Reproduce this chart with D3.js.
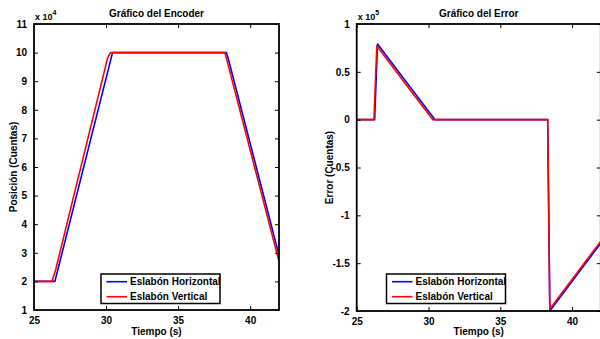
<!DOCTYPE html>
<html><head><meta charset="utf-8">
<script src="https://cdn.jsdelivr.net/npm/d3@7"></script>
<style>body{margin:0;background:#fff}svg{display:block}svg text{font-family:"Liberation Sans",Arial,sans-serif !important;font-weight:bold !important;fill:#000}</style>
</head><body>
<script>
// Encoder data (x 10^4)
const encTimeH = [25, 26.45, 30.45, 38.35, 38.5, 42];
const encValH  = [2, 2, 10, 10, 9.75, 2.92];
const encTimeV = [25, 26.25, 26.5, 30.1, 30.3, 38.25, 42];
const encValV  = [2, 2, 2.4, 9.8, 10, 10, 2.7];
// Error data (x 10^5)
const errTimeH = [25, 26.25, 26.45, 30.45, 38.3, 38.45, 42];
const errValH  = [0, 0, 0.79, 0, 0, -2, -1.29];
const errTimeV = [25, 26.2, 26.4, 30.3, 38.3, 38.45, 42];
const errValV  = [0, 0, 0.77, 0, 0, -1.98, -1.27];

const xTicks = [25, 30, 35, 40];
const encYTicks = [1,2,3,4,5,6,7,8,9,10,11];
const errYTicks = [1, 0.5, 0, -0.5, -1, -1.5, -2];
const errYLabels = ["1","0.5","0","-0.5","-1","-1.5","-2"];
const seriesNames = ["Eslabón Horizontal", "Eslabón Vertical"];
const seriesColors = ["#0000ff", "#ff0000"];

const svg = d3.select("body").append("svg").attr("width", 600).attr("height", 339);

function panel(cfg) {
  const x = d3.scaleLinear().domain([25, 42]).range([cfg.x0, cfg.x1]);
  const y = d3.scaleLinear().domain(cfg.ydom).range([cfg.y1, cfg.y0]);
  const g = svg.append("g");
  const clipId = "clip" + cfg.id;
  svg.append("clipPath").attr("id", clipId).append("rect")
    .attr("x", cfg.x0).attr("y", cfg.y0).attr("width", cfg.x1 - cfg.x0).attr("height", cfg.y1 - cfg.y0);
  const line = d3.line().x(d => x(d[0])).y(d => y(d[1]));
  cfg.series.forEach((s, i) => {
    g.append("path").attr("clip-path", `url(#${clipId})`)
      .datum(d3.zip(s[0], s[1]))
      .attr("fill", "none").attr("stroke", seriesColors[i]).attr("stroke-width", 1.6)
      .attr("stroke-linejoin", "round").attr("d", line);
  });
  const bottom = g.append("g").attr("transform", `translate(0,${cfg.y1})`)
    .call(d3.axisBottom(x).tickValues(xTicks).tickSize(-4).tickPadding(7));
  const top = g.append("g").attr("transform", `translate(0,${cfg.y0})`)
    .call(d3.axisTop(x).tickValues(xTicks).tickSize(-4).tickFormat(""));
  const left = g.append("g").attr("transform", `translate(${cfg.x0},0)`)
    .call(d3.axisLeft(y).tickValues(cfg.yticks).tickSize(-4).tickPadding(7).tickFormat(cfg.yfmt));
  const right = g.append("g").attr("transform", `translate(${cfg.x1},0)`)
    .call(d3.axisRight(y).tickValues(cfg.yticks).tickSize(-4).tickFormat(""));
  [bottom, top, left, right].forEach(a => {
    a.select(".domain").remove();
    a.selectAll("line").attr("stroke", "#000").attr("stroke-width", 1);
    a.selectAll("text").attr("font-size", 10);
  });
  g.append("rect").attr("x", cfg.x0).attr("y", cfg.y0).attr("width", cfg.x1 - cfg.x0).attr("height", cfg.y1 - cfg.y0)
    .attr("fill", "none").attr("stroke", "#000").attr("stroke-width", 1.8);
  g.append("text").attr("x", (cfg.x0 + cfg.x1) / 2).attr("y", 17).attr("text-anchor", "middle")
    .attr("font-size", 10).text(cfg.title);
  const ex = g.append("text").attr("x", cfg.x0 + 1).attr("y", 20).attr("font-size", 9);
  ex.append("tspan").text("x 10");
  ex.append("tspan").attr("dy", -5).attr("font-size", 7).text(cfg.exp);
  g.append("text").attr("x", (cfg.x0 + cfg.x1) / 2).attr("y", 335).attr("text-anchor", "middle")
    .attr("font-size", 10).text("Tiempo (s)");
  g.append("text").attr("transform", `translate(${cfg.ylabX},${(cfg.y0 + cfg.y1) / 2}) rotate(-90)`)
    .attr("text-anchor", "middle").attr("font-size", 10).text(cfg.ylabel);
  const lg = g.append("g");
  lg.append("rect").attr("x", cfg.lx).attr("y", 274).attr("width", 119).attr("height", 29.5)
    .attr("fill", "#fff").attr("stroke", "#000").attr("stroke-width", 1.5);
  seriesNames.forEach((n, i) => {
    const yy = 281.7 + i * 15;
    lg.append("line").attr("x1", cfg.lx + 5.5).attr("x2", cfg.lx + 26).attr("y1", yy).attr("y2", yy)
      .attr("stroke", seriesColors[i]).attr("stroke-width", 1.6);
    lg.append("text").attr("x", cfg.lx + 29).attr("y", yy + 3.5).attr("font-size", 10).text(n);
  });
}

panel({id: 1, x0: 34, x1: 279, y0: 24, y1: 310, ydom: [1, 11], yticks: encYTicks,
  yfmt: d3.format("d"), title: "Gráfico del Encoder", exp: "4", ylabel: "Posición (Cuentas)", ylabX: 17,
  lx: 101, series: [[encTimeH, encValH], [encTimeV, encValV]]});
panel({id: 2, x0: 356.7, x1: 600.8, y0: 24, y1: 311, ydom: [-2, 1], yticks: errYTicks,
  yfmt: (d, i) => errYLabels[i], title: "Gráfico del Error", exp: "5", ylabel: "Error (Cuentas)", ylabX: 333,
  lx: 386.5, series: [[errTimeH, errValH], [errTimeV, errValV]]});
</script>
</body></html>
